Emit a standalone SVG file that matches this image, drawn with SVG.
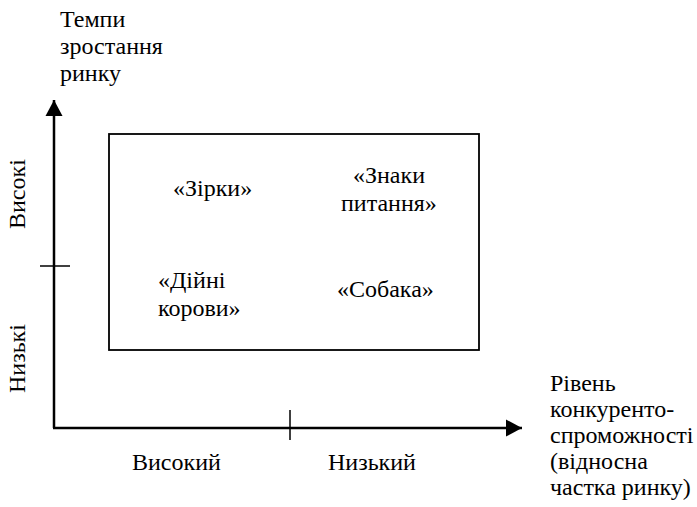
<svg xmlns="http://www.w3.org/2000/svg" width="697" height="507" viewBox="0 0 697 507">
<defs>
<marker id="arr" markerUnits="userSpaceOnUse" markerWidth="18" markerHeight="18" refX="16" refY="9" orient="auto">
<path d="M0,0.5 L16,9 L0,17.5 Z" fill="#000"/>
</marker>
</defs>
<rect width="697" height="507" fill="#fff"/>
<g id="connectors" stroke="#000" fill="none">
<line x1="54" y1="428" x2="54" y2="100" stroke-width="2.5" marker-end="url(#arr)"/>
<line x1="53" y1="428" x2="522" y2="428" stroke-width="2.5" marker-end="url(#arr)"/>
<line x1="40" y1="266" x2="70" y2="266" stroke-width="1.5"/>
<line x1="290" y1="410" x2="290" y2="440" stroke-width="1.5"/>
</g>
<g id="matrix">
<rect x="109" y="134" width="370" height="216" fill="none" stroke="#000" stroke-width="1.8"/>
</g>
<g id="y-label">
<text x="60" y="27" font-family="Liberation Serif" font-size="24" style="font-family:'Liberation Serif',serif !important">Темпи</text>
<text x="60" y="54" font-family="Liberation Serif" font-size="24" style="font-family:'Liberation Serif',serif !important">зростання</text>
<text x="60" y="81" font-family="Liberation Serif" font-size="24" style="font-family:'Liberation Serif',serif !important">ринку</text>
</g>
<g id="y-high"><text transform="translate(25,229) rotate(-90)" font-family="Liberation Serif" font-size="24" style="font-family:'Liberation Serif',serif !important">Високі</text></g>
<g id="y-low"><text transform="translate(25,393) rotate(-90)" font-family="Liberation Serif" font-size="24" style="font-family:'Liberation Serif',serif !important">Низькі</text></g>
<g id="stars"><text x="173" y="196" font-family="Liberation Serif" font-size="24" style="font-family:'Liberation Serif',serif !important">«Зірки»</text></g>
<g id="question"><text x="353" y="183" font-family="Liberation Serif" font-size="24" style="font-family:'Liberation Serif',serif !important">«Знаки</text><text x="341" y="211" font-family="Liberation Serif" font-size="24" style="font-family:'Liberation Serif',serif !important">питання»</text></g>
<g id="cows"><text x="158" y="288" font-family="Liberation Serif" font-size="24" style="font-family:'Liberation Serif',serif !important">«Дійні</text><text x="158" y="316" font-family="Liberation Serif" font-size="24" style="font-family:'Liberation Serif',serif !important">корови»</text></g>
<g id="dogs"><text x="337" y="297" font-family="Liberation Serif" font-size="24" style="font-family:'Liberation Serif',serif !important">«Собака»</text></g>
<g id="x-high"><text x="132" y="470" font-family="Liberation Serif" font-size="24" style="font-family:'Liberation Serif',serif !important">Високий</text></g>
<g id="x-low"><text x="328" y="470" font-family="Liberation Serif" font-size="24" style="font-family:'Liberation Serif',serif !important">Низький</text></g>
<g id="x-label">
<text x="550" y="391" font-family="Liberation Serif" font-size="24" style="font-family:'Liberation Serif',serif !important">Рівень</text>
<text x="550" y="417" font-family="Liberation Serif" font-size="24" style="font-family:'Liberation Serif',serif !important">конкуренто-</text>
<text x="550" y="443" font-family="Liberation Serif" font-size="24" style="font-family:'Liberation Serif',serif !important">спроможності</text>
<text x="550" y="469" font-family="Liberation Serif" font-size="24" style="font-family:'Liberation Serif',serif !important">(відносна</text>
<text x="550" y="495" font-family="Liberation Serif" font-size="24" style="font-family:'Liberation Serif',serif !important">частка ринку)</text>
</g>
</svg>
